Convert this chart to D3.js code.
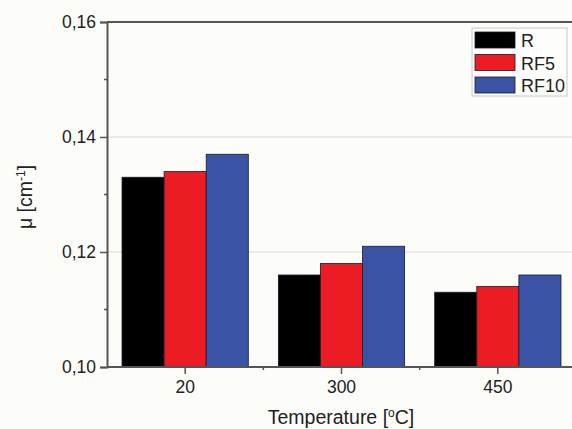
<!DOCTYPE html>
<html>
<head>
<meta charset="utf-8">
<script src="https://cdn.jsdelivr.net/npm/d3@7"></script>
<style>
  html, body { margin: 0; padding: 0; background: #fcfcf8; }
  svg { display: block; }
  text { font-family: "Liberation Sans", Arial, sans-serif; fill: #222; }
</style>
</head>
<body>
<svg id="chart" width="572" height="429"></svg>
<script>
// Attenuation coefficient by temperature for three samples
const categories = ["20", "300", "450"];
const seriesNames = ["R", "RF5", "RF10"];
const seriesR    = [0.133, 0.116, 0.113];
const seriesRF5  = [0.134, 0.118, 0.114];
const seriesRF10 = [0.137, 0.121, 0.116];
const seriesColors = ["#000000", "#ec1c24", "#3a53a4"];
const yTicks = [0.10, 0.12, 0.14, 0.16];
const yMinorTicks = [0.11, 0.13, 0.15];

const seriesValues = [seriesR, seriesRF5, seriesRF10];

const svg = d3.select("#chart");
const margin = { left: 107, top: 22, right: -4, bottom: 62 };
const W = 572, H = 429;
const x0 = margin.left, x1 = W - margin.right;
const y0 = H - margin.bottom, y1 = margin.top;
const FONT = "Liberation Sans, Arial, sans-serif";

const x = d3.scaleBand().domain(categories).range([x0, x1]).paddingInner(0).paddingOuter(0);
const xs = d3.scaleBand().domain(seriesNames).range([0, x.bandwidth()]).paddingInner(0).paddingOuter(0.357);
const y = d3.scaleLinear().domain([0.10, 0.16]).range([y0, y1]);

const fmt = v => d3.format(".2f")(v).replace(".", ",");

// horizontal grid lines at major ticks
svg.append("g").selectAll("line")
  .data(yTicks.filter(t => t > 0.10 && t < 0.16))
  .join("line")
  .attr("x1", x0).attr("x2", x1)
  .attr("y1", d => y(d)).attr("y2", d => y(d))
  .attr("stroke", "#d8d8d8").attr("stroke-width", 1);

// bars
const groups = svg.append("g").selectAll("g")
  .data(categories)
  .join("g")
  .attr("transform", d => `translate(${x(d)},0)`);

groups.selectAll("rect")
  .data((c, i) => seriesNames.map((s, j) => ({ s, v: seriesValues[j][i], color: seriesColors[j] })))
  .join("rect")
  .attr("x", d => xs(d.s))
  .attr("width", xs.bandwidth())
  .attr("y", d => y(d.v))
  .attr("height", d => y0 - y(d.v))
  .attr("fill", d => d.color)
  .attr("stroke", "#1a1a2a")
  .attr("stroke-width", 0.8);

// frame: top line
svg.append("line")
  .attr("x1", x0).attr("x2", x1).attr("y1", y1).attr("y2", y1)
  .attr("stroke", "#555").attr("stroke-width", 2);

// left axis
const yAxis = d3.axisLeft(y).tickValues(yTicks).tickFormat(fmt).tickSize(7).tickPadding(4);
const gy = svg.append("g").attr("transform", `translate(${x0},0)`).call(yAxis);
gy.select(".domain").attr("stroke", "#555").attr("stroke-width", 2);
gy.selectAll(".tick line").attr("stroke", "#555").attr("stroke-width", 1.5);
gy.selectAll(".tick text").attr("font-size", 17.5).style("font-family", FONT).attr("fill", "#222");
gy.selectAll(".minor").data(yMinorTicks).join("line")
  .attr("class", "minor")
  .attr("x1", 0).attr("x2", -3)
  .attr("y1", d => y(d)).attr("y2", d => y(d))
  .attr("stroke", "#555").attr("stroke-width", 1.5);

// bottom axis
const xAxis = d3.axisBottom(x).tickSize(7).tickPadding(7);
const gx = svg.append("g").attr("transform", `translate(0,${y0})`).call(xAxis);
gx.select(".domain").attr("d", `M${x0},0H${x1}`).attr("stroke", "#555").attr("stroke-width", 2);
gx.selectAll(".tick line").attr("stroke", "#555").attr("stroke-width", 1.5);
gx.selectAll(".tick text").attr("font-size", 17.5).style("font-family", FONT).attr("fill", "#222");
gx.selectAll(".minor").data(categories.slice(1)).join("line")
  .attr("class", "minor")
  .attr("x1", d => x(d)).attr("x2", d => x(d))
  .attr("y1", 0).attr("y2", 3)
  .attr("stroke", "#555").attr("stroke-width", 1.5);

// axis titles
const xt = svg.append("text")
  .attr("x", 341).attr("y", 424)
  .attr("text-anchor", "middle").attr("font-size", 19.5);
xt.append("tspan").text("Temperature [");
xt.append("tspan").attr("baseline-shift", "super").attr("font-size", 12).text("o");
xt.append("tspan").text("C]");

const yt = svg.append("text")
  .attr("transform", "translate(32,197) rotate(-90)")
  .attr("text-anchor", "middle").attr("font-size", 19.5);
yt.append("tspan").text("μ [cm");
yt.append("tspan").attr("baseline-shift", "super").attr("font-size", 12).text("-1");
yt.append("tspan").text("]");

// legend
const lg = svg.append("g").attr("transform", "translate(472,28)");
lg.append("rect").attr("x", 0).attr("y", 0).attr("width", 95).attr("height", 68)
  .attr("fill", "#fdfdfb").attr("stroke", "#c8c8c8").attr("stroke-width", 1);
const items = lg.selectAll("g.item").data(seriesNames).join("g")
  .attr("class", "item")
  .attr("transform", (d, i) => `translate(3,${4 + i * 22.5})`);
items.append("rect").attr("width", 40).attr("height", 16)
  .attr("fill", (d, i) => seriesColors[i]).attr("stroke", "#1a1a2a").attr("stroke-width", 0.8);
items.append("text").attr("x", 46).attr("y", 15).attr("font-size", 18).text(d => d);
</script>
</body>
</html>
